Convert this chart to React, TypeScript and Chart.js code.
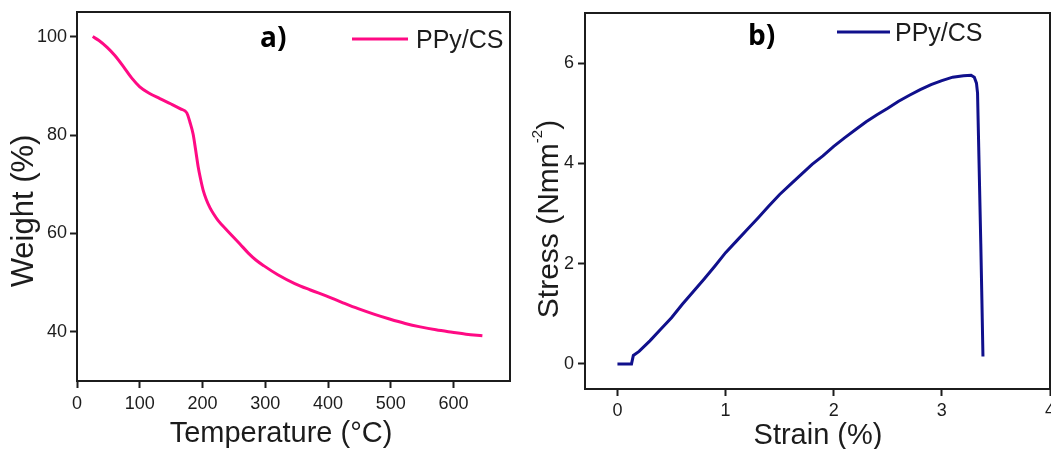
import React, { useEffect, useRef } from 'react';
import { Chart, registerables } from 'chart.js';

Chart.register(...registerables);

// ---------- Panel a) TGA ----------
const TGA_TEMPERATURE = [25, 35, 48, 60, 74, 87, 100, 115, 132, 150, 165, 175, 180, 185, 189, 193, 197, 201, 206, 212, 218, 225, 240, 260, 273, 285, 298, 320, 347, 372, 397, 422, 448, 473, 498, 523, 547, 572, 598, 620, 646];
const TGA_WEIGHT = [100.0, 99.2, 97.8, 96.2, 93.9, 91.6, 89.8, 88.5, 87.4, 86.3, 85.3, 84.5, 82.6, 80.2, 77.0, 73.6, 71.0, 68.8, 66.9, 65.2, 63.9, 62.6, 60.5, 57.8, 56.0, 54.6, 53.4, 51.6, 49.8, 48.5, 47.3, 46.0, 44.7, 43.6, 42.6, 41.7, 41.0, 40.4, 39.9, 39.5, 39.2];
const TGA_X_TICKS = [0, 100, 200, 300, 400, 500, 600];
const TGA_Y_TICKS = [40, 60, 80, 100];

// ---------- Panel b) stress-strain ----------
const STRAIN = [0, 0.13, 0.147, 0.2, 0.3, 0.4, 0.5, 0.6, 0.7, 0.8, 0.9, 1.0, 1.1, 1.2, 1.3, 1.4, 1.5, 1.6, 1.7, 1.8, 1.9, 2.0, 2.1, 2.2, 2.3, 2.4, 2.5, 2.6, 2.7, 2.8, 2.9, 3.0, 3.1, 3.2, 3.27, 3.30, 3.32, 3.33, 3.345, 3.36, 3.37, 3.38];
const STRESS = [0, 0, 0.17, 0.25, 0.46, 0.69, 0.92, 1.19, 1.44, 1.69, 1.95, 2.22, 2.45, 2.68, 2.91, 3.15, 3.38, 3.58, 3.78, 3.98, 4.15, 4.34, 4.51, 4.67, 4.83, 4.97, 5.10, 5.24, 5.36, 5.47, 5.57, 5.65, 5.72, 5.75, 5.76, 5.72, 5.60, 5.40, 3.90, 2.40, 1.30, 0.15];
const STRAIN_TICKS = [0, 1, 2, 3, 4];
const STRESS_TICKS = [0, 2, 4, 6];

const SERIES_LABEL = 'PPy/CS';

const PINK = '#FF0A84';
const NAVY = '#10108C';
const INK = '#1c1c1c';
const FONT = 'Arial, "Liberation Sans", Helvetica, sans-serif';
const H = 449;

type Part = { text: string; sup?: boolean };
type Decor = {
  xTitle: { text: string; x: number; y: number; size: number };
  yTitle: { parts: Part[]; x: number; y: number; size: number; supSize?: number; supRaise?: number };
  panel: { text: string; x: number; y: number; size: number };
  legend: { x0: number; x1: number; ly: number; tx: number; ty: number; size: number };
};

function makeDecor(spec: Decor) {
  return {
    id: 'decor',
    afterDraw(chart: any) {
      const ctx = chart.ctx as CanvasRenderingContext2D;
      const { left, top, right, bottom } = chart.chartArea;
      ctx.save();
      // frame box
      ctx.strokeStyle = INK;
      ctx.lineWidth = 2;
      ctx.strokeRect(left, top, right - left, bottom - top);
      ctx.fillStyle = INK;
      // x title
      ctx.font = `${spec.xTitle.size}px ${FONT}`;
      ctx.textAlign = 'center';
      ctx.textBaseline = 'alphabetic';
      ctx.fillText(spec.xTitle.text, spec.xTitle.x, spec.xTitle.y);
      // y title
      const yt = spec.yTitle;
      ctx.save();
      ctx.translate(yt.x, yt.y);
      ctx.rotate(-Math.PI / 2);
      ctx.textAlign = 'left';
      const fontOf = (p: Part) => `${p.sup ? yt.supSize : yt.size}px ${FONT}`;
      let total = 0;
      const widths = yt.parts.map((p) => {
        ctx.font = fontOf(p);
        const w = ctx.measureText(p.text).width;
        total += w;
        return w;
      });
      let cx = -total / 2;
      yt.parts.forEach((p, i) => {
        ctx.font = fontOf(p);
        ctx.fillText(p.text, cx, p.sup ? -(yt.supRaise || 0) : 0);
        cx += widths[i];
      });
      ctx.restore();
      // panel label
      ctx.font = `bold ${spec.panel.size}px "Open Sans", ${FONT}`;
      ctx.textAlign = 'left';
      ctx.fillStyle = '#000';
      ctx.fillText(spec.panel.text, spec.panel.x, spec.panel.y);
      // legend
      const ds = chart.data.datasets[0];
      const lg = spec.legend;
      ctx.strokeStyle = ds.borderColor;
      ctx.lineWidth = 3;
      ctx.beginPath();
      ctx.moveTo(lg.x0, lg.ly);
      ctx.lineTo(lg.x1, lg.ly);
      ctx.stroke();
      ctx.fillStyle = INK;
      ctx.font = `${lg.size}px ${FONT}`;
      ctx.fillText(ds.label, lg.tx, lg.ty);
      ctx.restore();
    },
  };
}

function axis(min: number, max: number, ticks: number[], position: 'bottom' | 'left', size: number, pad: number) {
  const horizontal = position === 'bottom';
  return {
    type: 'linear',
    position,
    min,
    max,
    afterBuildTicks: (s: any) => {
      s.ticks = ticks.map((v) => ({ value: v }));
    },
    afterFit: (s: any) => {
      if (horizontal) {
        s.height = size;
        s.paddingLeft = 0;
        s.paddingRight = 0;
      } else {
        s.width = size;
        s.paddingTop = 0;
        s.paddingBottom = 0;
      }
    },
    ticks: {
      color: INK,
      font: { family: FONT, size: 18 },
      padding: pad,
      autoSkip: false,
      maxRotation: 0,
      minRotation: 0,
      callback: (v: any) => String(v),
    },
    grid: {
      display: true,
      drawOnChartArea: false,
      drawTicks: true,
      tickLength: 7,
      tickWidth: 2,
      tickColor: INK,
      color: INK,
    },
    border: { display: false },
  };
}

function buildTGA(canvas: HTMLCanvasElement) {
  return new Chart(canvas, {
    type: 'scatter',
    data: {
      datasets: [
        {
          label: SERIES_LABEL,
          data: TGA_TEMPERATURE.map((x, i) => ({ x, y: TGA_WEIGHT[i] })),
          showLine: true,
          borderColor: PINK,
          backgroundColor: PINK,
          borderWidth: 3,
          pointRadius: 0,
          cubicInterpolationMode: 'monotone',
          fill: false,
        },
      ],
    },
    options: {
      responsive: false,
      animation: false,
      devicePixelRatio: 1,
      layout: { padding: { top: 12, right: 15, left: 0, bottom: 0 } },
      plugins: { legend: { display: false }, tooltip: { enabled: false } },
      scales: {
        x: axis(0, 690, TGA_X_TICKS, 'bottom', 68, 5),
        y: axis(30, 105, TGA_Y_TICKS, 'left', 77, 3),
      },
    } as any,
    plugins: [
      makeDecor({
        xTitle: { text: 'Temperature (°C)', x: 281, y: 442, size: 29 },
        yTitle: { parts: [{ text: 'Weight (%)' }], x: 33, y: 211, size: 31 },
        panel: { text: 'a)', x: 260, y: 47, size: 28 },
        legend: { x0: 352, x1: 408, ly: 39, tx: 416, ty: 48, size: 25 },
      }),
    ],
  } as any);
}

function buildStress(canvas: HTMLCanvasElement) {
  return new Chart(canvas, {
    type: 'scatter',
    data: {
      datasets: [
        {
          label: SERIES_LABEL,
          data: STRAIN.map((x, i) => ({ x, y: STRESS[i] })),
          showLine: true,
          borderColor: NAVY,
          backgroundColor: NAVY,
          borderWidth: 3,
          pointRadius: 0,
          tension: 0,
          fill: false,
        },
      ],
    },
    options: {
      responsive: false,
      animation: false,
      devicePixelRatio: 1,
      layout: { padding: { top: 13, right: 1, left: 0, bottom: 0 } },
      plugins: { legend: { display: false }, tooltip: { enabled: false } },
      scales: {
        x: axis(-0.3, 4, STRAIN_TICKS, 'bottom', 60, 4),
        y: axis(-0.5, 7, STRESS_TICKS, 'left', 60, 4),
      },
    } as any,
    plugins: [
      makeDecor({
        xTitle: { text: 'Strain (%)', x: 293, y: 444, size: 29 },
        yTitle: {
          parts: [{ text: 'Stress (Nmm' }, { text: '-2', sup: true }, { text: ')' }],
          x: 33,
          y: 219,
          size: 30,
          supSize: 15,
          supRaise: 16,
        },
        panel: { text: 'b)', x: 223, y: 45, size: 28 },
        legend: { x0: 312, x1: 365, ly: 32, tx: 370, ty: 41, size: 25 },
      }),
    ],
  } as any);
}

function Panel({ build, left, width }: { build: (c: HTMLCanvasElement) => Chart; left: number; width: number }) {
  const ref = useRef<HTMLCanvasElement>(null);
  useEffect(() => {
    const chart = build(ref.current as HTMLCanvasElement);
    return () => chart.destroy();
  }, []);
  return (
    <canvas
      ref={ref}
      width={width}
      height={H}
      style={{ position: 'absolute', left, top: 0, width, height: H, display: 'block' }}
    />
  );
}

export default function App() {
  return (
    <div style={{ position: 'absolute', left: 0, top: 0, width: 1051, height: H, background: '#fff', overflow: 'hidden' }}>
      <Panel build={buildTGA} left={0} width={525} />
      <Panel build={buildStress} left={525} width={526} />
    </div>
  );
}
